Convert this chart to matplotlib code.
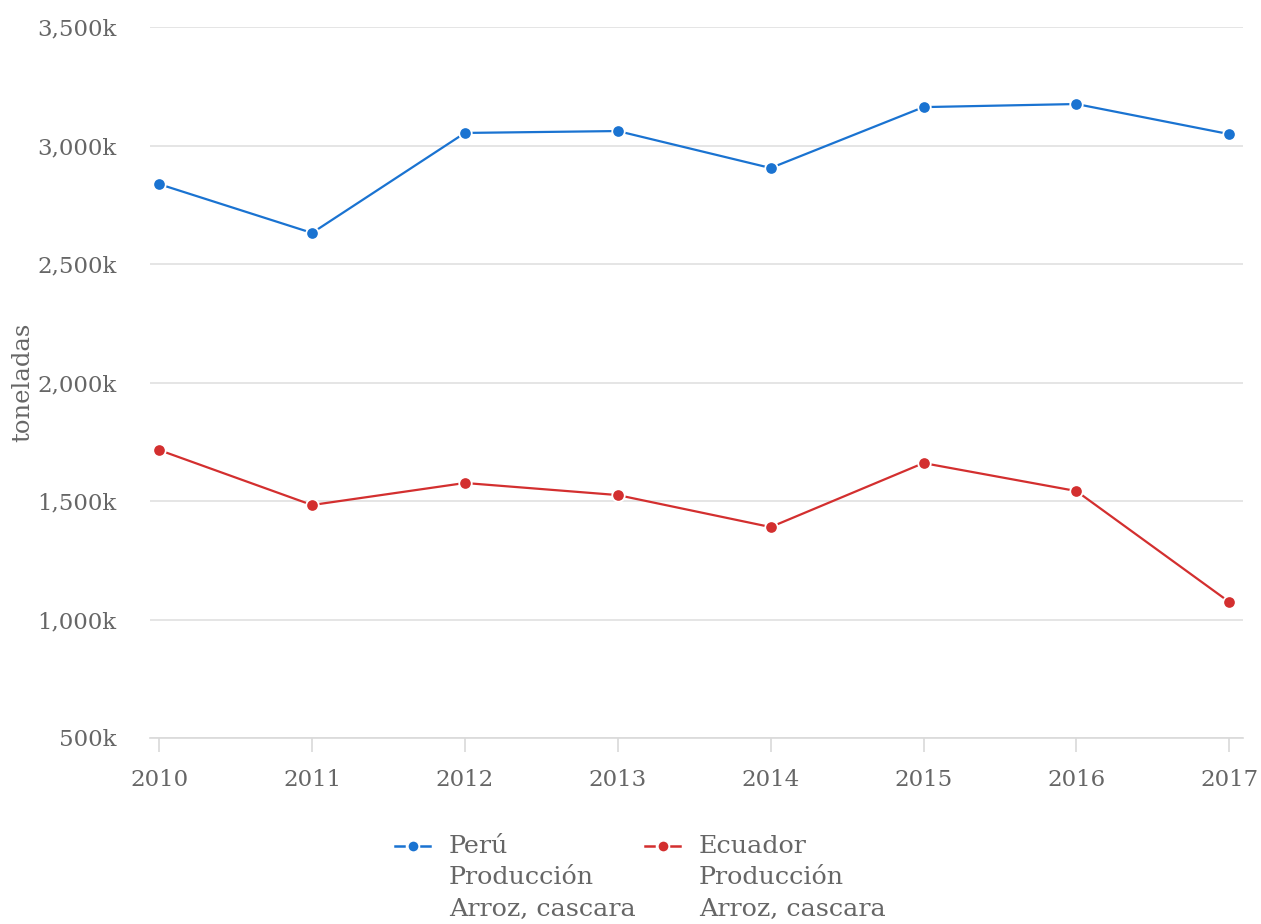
import matplotlib
matplotlib.use("Agg")
import matplotlib.pyplot as plt
from matplotlib.lines import Line2D
from matplotlib.ticker import FuncFormatter

years = [2010, 2011, 2012, 2013, 2014, 2015, 2016, 2017]
peru = [2837, 2631, 3053, 3061, 2905, 3162, 3175, 3048]
ecuador = [1715, 1483, 1576, 1525, 1390, 1660, 1542, 1074]
labels = ["Perú\nProducción\nArroz, cascara", "Ecuador\nProducción\nArroz, cascara"]
colors = ["#1a73d1", "#d32f2f"]

plt.rcParams["font.family"] = ["DejaVu Serif"]
text_color = "#666666"
W, H = 1261, 924

fig = plt.figure(figsize=(W / 100, H / 100), dpi=100)
ax = fig.add_axes([150 / W, 1 - 738 / H, 1093 / W, 711 / H])

for vals, lab, col in zip([peru, ecuador], labels, colors):
    ax.plot(years, vals, color=col, lw=1.6, marker="o", markersize=9,
            markeredgecolor="white", markeredgewidth=1.3, label=lab,
            zorder=3, clip_on=False)

ax.set_xlim(2009.94, 2017.09)
ax.set_ylim(500, 3500)
ax.set_yticks([500, 1000, 1500, 2000, 2500, 3000, 3500])
ax.yaxis.set_major_formatter(FuncFormatter(lambda v, p: f"{v:,.0f}k"))
ax.set_xticks(years)

ax.grid(axis="y", color="#e0e0e0", lw=1.2)
ax.set_axisbelow(True)
for s in ["top", "right", "left"]:
    ax.spines[s].set_visible(False)
ax.spines["bottom"].set_color("#d9d9d9")
ax.spines["bottom"].set_linewidth(1.2)
ax.tick_params(axis="y", length=0, pad=24, labelsize=16.5, labelcolor=text_color)
ax.tick_params(axis="x", length=10, width=1.2, color="#d9d9d9", pad=12,
               labelsize=16.5, labelcolor=text_color)
ax.set_ylabel("toneladas", color=text_color, fontsize=17.5)
ax.yaxis.set_label_coords(-0.106, 0.5)

# legend below the plot, drawn by hand so the marker sits on the first line
leg_x = [395, 645]
for x0, lab, col in zip(leg_x, labels, colors):
    yc = 1 - 846 / H
    for a, b in [(x0, x0 + 9), (x0 + 26, x0 + 35)]:
        fig.add_artist(Line2D([a / W, b / W], [yc, yc], color=col, lw=1.8,
                              transform=fig.transFigure))
    fig.add_artist(Line2D([(x0 + 17.5) / W], [yc], color=col, marker="o",
                          markersize=8, markeredgecolor="white",
                          markeredgewidth=1, transform=fig.transFigure))
    fig.text((x0 + 54) / W, 1 - 835 / H, lab, ha="left", va="top",
             fontsize=18.3, color=text_color, linespacing=1.46)

fig.savefig("out.png", dpi=100)
